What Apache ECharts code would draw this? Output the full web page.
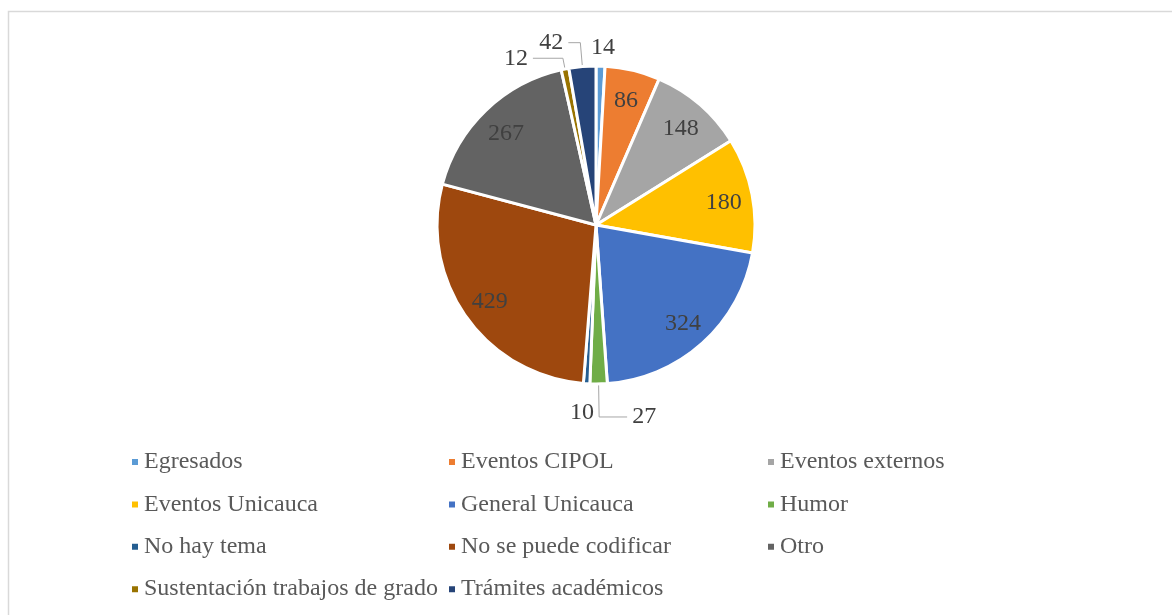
<!DOCTYPE html>
<html>
<head>
<meta charset="utf-8">
<script src="https://cdn.jsdelivr.net/npm/echarts@6/dist/echarts.min.js"></script>
<style>
html,body{margin:0;padding:0;background:#fff;overflow:hidden;}
#chart{width:1172px;height:615px;}
</style>
</head>
<body>
<div id="chart"></div>
<script>
const categories = ['Egresados','Eventos CIPOL','Eventos externos','Eventos Unicauca','General Unicauca','Humor','No hay tema','No se puede codificar','Otro','Sustentación trabajos de grado','Trámites académicos'];
const values = [14, 86, 148, 180, 324, 27, 10, 429, 267, 12, 42];
const colors = ['#5B9BD5','#ED7D31','#A5A5A5','#FFC000','#4472C4','#70AD47','#255E91','#9E480E','#636363','#997300','#264478'];
const legendCol1 = ['Egresados','Eventos Unicauca','No hay tema','Sustentación trabajos de grado'];
const legendCol2 = ['Eventos CIPOL','General Unicauca','No se puede codificar','Trámites académicos'];
const legendCol3 = ['Eventos externos','Humor','Otro'];

const CX = 596, CY = 225, R = 159, INSIDE_R = 130;
// outside label settings (style only)
const outsideLabels = {
  0: {length: 18, length2: 0, show: false, dist: -10},
  5: {length: 33, length2: 28, show: true, dist: 5},
  6: {length: 29, length2: 0, show: false, dist: -9},
  9: {length: 11, length2: 30, show: true, dist: 5},
  10: {length: 24, length2: 12, show: true, dist: 5}
};

const FONT = "'Liberation Serif', 'Times New Roman', serif";

const data = categories.map(function (name, i) {
  const o = outsideLabels[i];
  const item = { name: name, value: values[i], itemStyle: { color: colors[i] } };
  if (o) {
    item.label = { position: 'outside', distanceToLabelLine: o.dist };
    item.labelLine = { show: o.show, length: o.length, length2: o.length2 };
  } else {
    item.label = { position: 'inside' };
    item.labelLine = { show: false };
  }
  return item;
});

function makeLegend(list, left) {
  return {
    orient: 'vertical',
    left: left,
    top: 450,
    padding: 0,
    itemGap: 18.4,
    itemWidth: 8,
    itemHeight: 8,
    icon: 'rect',
    selectedMode: false,
    data: list,
    textStyle: { fontFamily: FONT, fontSize: 24, color: '#595959', lineHeight: 24 }
  };
}

const chart = echarts.init(document.getElementById('chart'));
chart.setOption({
  animation: false,
  backgroundColor: '#fff',
  graphic: [{
    type: 'rect',
    left: 6, top: 9,
    shape: { width: 1200, height: 700 },
    style: { fill: 'none', stroke: '#D9D9D9', lineWidth: 1.5 },
    silent: true
  }],
  legend: [makeLegend(legendCol1, 130), makeLegend(legendCol2, 447), makeLegend(legendCol3, 766)],
  series: [{
    type: 'pie',
    center: [CX, CY],
    radius: [0, R],
    startAngle: 90,
    clockwise: true,
    avoidLabelOverlap: false,
    silent: true,
    emphasis: { disabled: true },
    itemStyle: { borderColor: '#fff', borderWidth: 3 },
    label: {
      show: true,
      color: '#404040',
      fontSize: 24,
      fontFamily: FONT,
      formatter: '{c}'
    },
    labelLine: {
      lineStyle: { color: '#A6A6A6', width: 1 }
    },
    labelLayout: function (p) {
      if (outsideLabels[p.dataIndex]) return {};
      const lx = p.labelRect.x + p.labelRect.width / 2;
      const ly = p.labelRect.y + p.labelRect.height / 2;
      const vx = lx - CX, vy = ly - CY;
      const d = Math.sqrt(vx * vx + vy * vy) || 1;
      const k = INSIDE_R / d;
      return { dx: vx * (k - 1), dy: vy * (k - 1) + 2 };
    },
    data: data
  }]
});
</script>
</body>
</html>
